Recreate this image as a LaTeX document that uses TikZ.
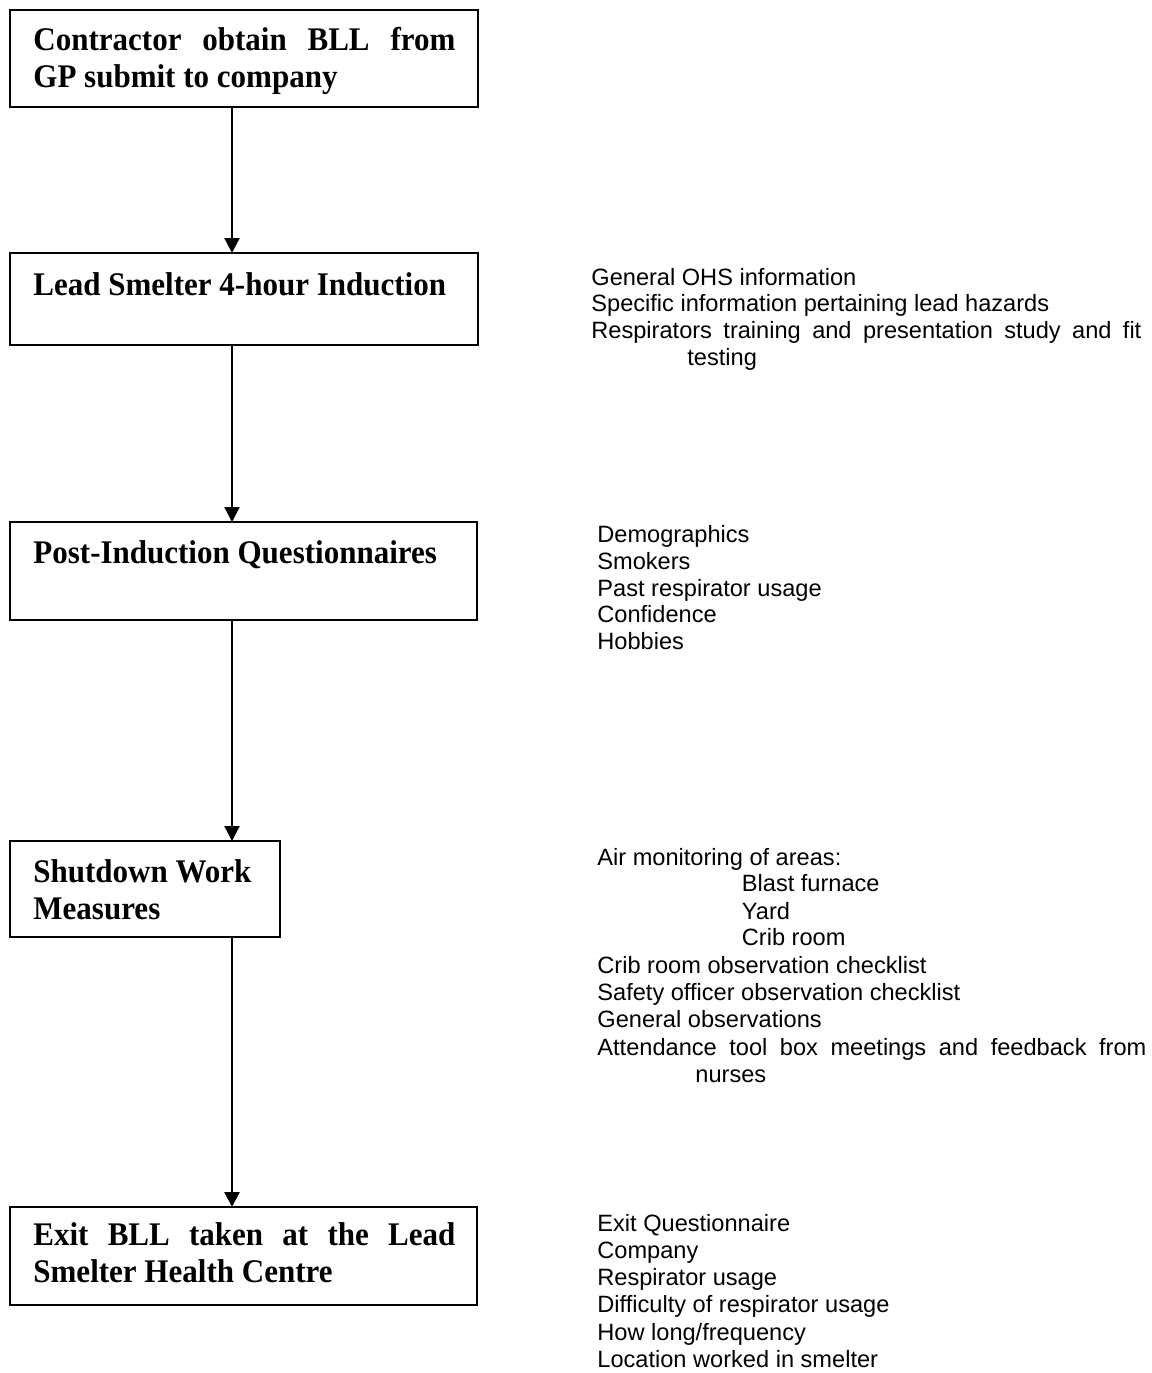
\documentclass[tikz,border=0pt]{standalone}
\usepackage{fontspec}
\setmainfont{Liberation Serif}
\newfontfamily\boxf[FakeStretch=0.94]{Liberation Serif}
\newfontfamily\arialf{Liberation Sans}
\usetikzlibrary{arrows.meta}
\begin{document}
\begin{tikzpicture}[x=0.5pt,y=-0.5pt,
  box/.style={draw, line width=1.4pt, inner sep=0pt, outer sep=0pt},
  btxt/.style={anchor=base west, inner sep=0pt, font=\boxf\fontsize{16.5}{18.5}\selectfont\bfseries},
  rtxt/.style={anchor=base west, inner sep=0pt, font=\arialf\fontsize{11.8}{13}\selectfont},
  arr/.style={line width=1.1pt, -{Triangle[width=7.5pt,length=7.5pt]}}]
\useasboundingbox (0,0) rectangle (1152,1373);

% boxes
\node[box, minimum width=234pt, minimum height=48.5pt] (b1) at (244,58.5) {};
\node[box, minimum width=234pt, minimum height=46pt] (b2) at (244,299) {};
\node[box, minimum width=233.5pt, minimum height=49pt] (b3) at (243.5,571) {};
\node[box, minimum width=135pt, minimum height=48pt] (b4) at (145,889) {};
\node[box, minimum width=233.5pt, minimum height=49pt] (b5) at (243.5,1256) {};

% box texts
\node[btxt] (t1a) at (33,50) {\makebox[211pt][s]{Contractor obtain BLL from}};
\node[btxt] (t1b) at (33,87) {GP submit to company};
\node[btxt] (t2) at (33,295) {Lead Smelter 4-hour Induction};
\node[btxt] (t3) at (33,563) {Post-Induction Questionnaires};
\node[btxt] (t4a) at (33,882) {Shutdown Work};
\node[btxt] (t4b) at (33,919) {Measures};
\node[btxt] (t5a) at (33,1245) {\makebox[211pt][s]{Exit BLL taken at the Lead}};
\node[btxt] (t5b) at (33,1282) {Smelter Health Centre};

% arrows
\coordinate (ax) at (232,0);
\draw[arr] (b1.south -| ax) -- (b2.north -| ax);
\draw[arr] (b2.south -| ax) -- (b3.north -| ax);
\draw[arr] (b3.south -| ax) -- (b4.north -| ax);
\draw[arr] (b4.south -| ax) -- (b5.north -| ax);

% right texts: block A
\node[rtxt] (a1) at (591,285) {General OHS information};
\node[rtxt] (a2) at (591,311.7) {Specific information pertaining lead hazards};
\node[rtxt] (a3) at (591,338.3) {\makebox[275pt][s]{Respirators training and presentation study and fit}};
\node[rtxt] (a4) at (687,365) {testing};

% block B
\node[rtxt] (q1) at (597,542.5) {Demographics};
\node[rtxt] (q2) at (597,569.3) {Smokers};
\node[rtxt] (q3) at (597,596) {Past respirator usage};
\node[rtxt] (q4) at (597,622.9) {Confidence};
\node[rtxt] (q5) at (597,649.7) {Hobbies};

% block C
\node[rtxt] (s1) at (597,865) {Air monitoring of areas:};
\node[rtxt] (s2) at (741.5,891.7) {Blast furnace};
\node[rtxt] (s3) at (741.5,919) {Yard};
\node[rtxt] (s4) at (741.5,945.7) {Crib room};
\node[rtxt] (s5) at (597,973.3) {Crib room observation checklist};
\node[rtxt] (s6) at (597,1000) {Safety officer observation checklist};
\node[rtxt] (s7) at (597,1027) {General observations};
\node[rtxt] (s8) at (597,1055) {\makebox[274.5pt][s]{Attendance tool box meetings and feedback from}};
\node[rtxt] (s9) at (695,1082) {nurses};

% block D
\node[rtxt] (e1) at (597,1231) {Exit Questionnaire};
\node[rtxt] (e2) at (597,1258) {Company};
\node[rtxt] (e3) at (597,1285) {Respirator usage};
\node[rtxt] (e4) at (597,1312) {Difficulty of respirator usage};
\node[rtxt] (e5) at (597,1340) {How long/frequency};
\node[rtxt] (e6) at (597,1367) {Location worked in smelter};
\end{tikzpicture}
\end{document}
